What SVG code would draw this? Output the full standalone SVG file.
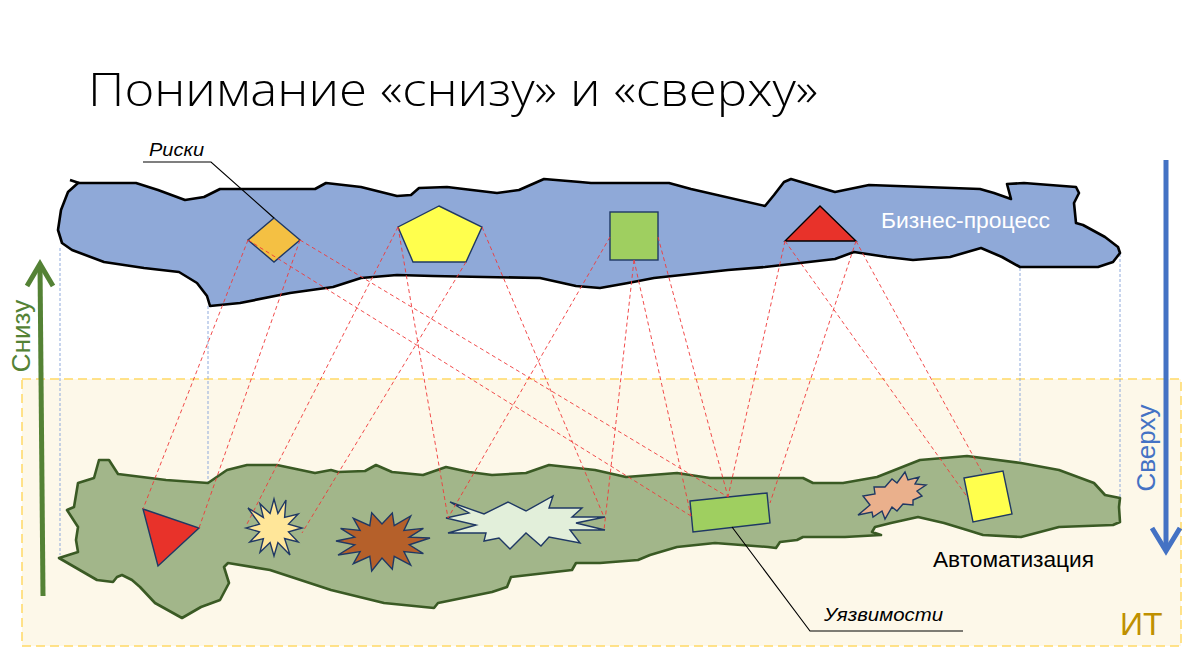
<svg xmlns="http://www.w3.org/2000/svg" width="1200" height="656" viewBox="0 0 1200 656">
<style>
.txt{font-family:"Liberation Sans",Arial,sans-serif}
.title{font-family:"Open Sans","Liberation Sans",sans-serif;font-weight:300}
.blob-top{fill:#8FA9D8;stroke:#000;stroke-width:2.6;stroke-linejoin:round}
.blob-it{fill:#A2B68A;stroke:#3A5A24;stroke-width:2.6;stroke-linejoin:round}
.sh{stroke:#1F3864;stroke-width:1.4;stroke-linejoin:miter}
.vl{stroke:#8FAADC;stroke-width:1;stroke-dasharray:3 2;fill:none}
.rl{stroke:#F03A3A;stroke-opacity:.9;stroke-width:1;stroke-dasharray:4 3;fill:none}
.lead{stroke:#000;stroke-width:1.1;fill:none}
</style>
<rect width="1200" height="656" fill="#FFFFFF"/>

<!-- IT zone -->
<g id="it-zone">
<rect x="22" y="379" width="1159" height="267" fill="#FDF8E9" stroke="#FFD966" stroke-width="1.5" stroke-dasharray="9 5"/>
<text class="txt" x="1120" y="635" font-size="32" fill="#BF9000">ИТ</text>
</g>

<!-- Title -->
<text class="title" x="88" y="106" font-size="46" fill="#000" textLength="730" lengthAdjust="spacingAndGlyphs">Понимание «снизу» и «сверху»</text>

<!-- Vertical guide lines -->
<g id="guides">
<line class="vl" x1="60" y1="248" x2="60" y2="555"/>
<line class="vl" x1="208" y1="306" x2="208" y2="603"/>
<line class="vl" x1="1020" y1="268" x2="1020" y2="537"/>
<line class="vl" x1="1120" y1="254" x2="1120" y2="498"/>
</g>

<!-- Business process blob -->
<g id="business-process">
<path class="blob-top" d="M78,183 L136,183 L158,190 L185,200 L204,197 L220,189 L315,189 L326,183 L361,187 L397,196 L411,195 L419,188 L447,187 L497,193 L519,190 L544,179 L580,182 L591,183 L669,183 L691,189 L765,206 L774,195 L784,182 L791,179 L835,192 L869,185 L980,189 L994,193 L1011,199 L1007,184 L1024,183 L1076,187 L1079,193 L1074,203 L1076,223 L1083,225 L1105,237 L1118,247 L1120,253 L1113,262 L1098,267 L1020,267 L1002,257 L981,248 L950,257 L913,260 L887,257 L854,252 L835,259 L765,267 L728,270 L654,278 L628,283 L600,288 L576,286 L540,278 L433,276 L397,275 L361,278 L333,287 L290,293 L240,303 L210,306 L207,296 L197,283 L179,272 L144,268 L104,262 L72,250 L62,243 L58,230 L61,210 L68,192 Z"/>
<path d="M70,180 L79,183" stroke="#000" stroke-width="2.6" fill="none"/>
<text class="txt" x="881" y="228" font-size="22.5" fill="#FFFFFF" textLength="169" lengthAdjust="spacingAndGlyphs">Бизнес-процесс</text>
</g>

<!-- Automation blob -->
<g id="automation">
<path class="blob-it" d="M59,558 L78,552 L76,540 L78,527 L67,510 L74,507 L78,483 L94,478 L99,460 L109,460 L118,474 L166,480 L208,483 L227,470 L247,465 L277,465 L315,473 L331,470 L338,472 L365,471 L376,465 L392,472 L423,475 L446,467 L469,472 L492,475 L526,473 L549,465 L595,470 L626,477 L677,473 L710,478 L803,478 L813,483 L843,483 L877,477 L920,460 L967,456 L1021,463 L1059,470 L1094,483 L1105,495 L1120,498 L1119,507 L1120,522 L1113,525 L1059,527 L1021,537 L983,535 L967,530 L944,523 L918,517 L891,523 L875,527 L872,532 L881,535 L845,537 L803,537 L797,540 L780,542 L776,548 L768,547 L715,543 L677,547 L650,555 L638,560 L600,563 L576,563 L572,570 L511,577 L507,587 L492,592 L438,603 L434,608 L384,603 L331,590 L270,570 L228,563 L224,567 L229,583 L220,600 L201,607 L182,618 L155,603 L140,587 L132,580 L122,575 L117,577 L113,582 L97,580 Z"/>
<text class="txt" x="933" y="567" font-size="22" fill="#000" textLength="161" lengthAdjust="spacingAndGlyphs">Автоматизация</text>
</g>

<!-- Risk nodes (top) -->
<g id="risk-diamond"><polygon class="sh" fill="#F4C043" points="274,218 300,240 274,262 248,240"/></g>
<g id="risk-pentagon"><polygon class="sh" fill="#FFFF4D" points="439,206 482,227 466,262 413,262 398,227"/></g>
<g id="risk-square"><rect class="sh" fill="#9FCF60" x="610" y="212" width="48" height="48"/></g>
<g id="risk-triangle"><polygon fill="#E8322A" stroke="#000" stroke-width="1.4" points="820,206 856,241 785,241"/></g>

<!-- Vulnerability nodes (bottom) -->
<g id="vuln-triangle"><polygon class="sh" fill="#E8322A" points="143,509 199,528 158,566"/></g>
<g id="vuln-star-yellow"><polygon class="sh" fill="#FFE699" points="302,528 288.5,531.9 298.2,542 284.6,538.6 290,555 277.9,542.5 274,556 270.1,542.5 260,552.2 263.4,538.6 249.8,542 259.5,531.9 246,528 259.5,524.1 248,508 263.4,517.4 260,503.8 270.1,513.5 274,499 277.9,513.5 286,500 284.6,517.4 298.2,514 288.5,524.1"/></g>
<g id="vuln-star-brown"><polygon class="sh" fill="#B5602A" points="430,538 409.3,544.8 423.4,553.6 403.9,551.6 410.7,565 394.2,556.3 392.3,569.3 382,558 371.7,571 369.8,556.3 353.3,563.7 360.1,551.6 338,555 354.7,544.8 336,541 354.7,537.2 340.6,528.4 360.1,530.4 353.3,518.3 369.8,525.7 371.7,512.7 382,524 392.3,513 394.2,525.7 410.7,516 403.9,530.4 423.4,528.4 409.3,537.2"/></g>
<g id="vuln-star-white"><polygon class="sh" fill="#E2EFDA" points="450,502 484,514 508,502 526,511 553,496 549,508 582,508 572,517 605,517 576,523 605,530 570,530 580,543 549,537 541,546 526,533 510,549 499,538 484,541 486,533 448,533 476,525 446,518 469,513"/></g>
<g id="vuln-rect"><polygon class="sh" fill="#9FCF60" points="690,501 767,493 770,523 693,532"/></g>
<g id="vuln-star-salmon"><polygon class="sh" fill="#EAB08C" points="858,515 870,505 863,496 875,494 874,487 885,487 892,479 897,483 905,472 908,480 919,477 915,484 926,485 917,491 922,496 913,500 913,505 903,504 897,511 892,507 885,519 882,511 873,517 872,512"/></g>
<g id="vuln-square"><polygon class="sh" fill="#FFFF4D" points="964,478 1003,471 1012,514 973,522"/></g>

<!-- Connectors -->
<g id="connectors">
<line class="rl" x1="248" y1="240" x2="143" y2="509"/>
<line class="rl" x1="300" y1="240" x2="199" y2="528"/>
<line class="rl" x1="300" y1="240" x2="728" y2="497"/>
<line class="rl" x1="248" y1="240" x2="691" y2="516"/>
<line class="rl" x1="398" y1="227" x2="247" y2="524"/>
<line class="rl" x1="398" y1="227" x2="448" y2="518"/>
<line class="rl" x1="466" y1="262" x2="302" y2="533"/>
<line class="rl" x1="482" y1="227" x2="604" y2="517"/>
<line class="rl" x1="610" y1="237" x2="448" y2="518"/>
<line class="rl" x1="634" y1="260" x2="604" y2="530"/>
<line class="rl" x1="634" y1="260" x2="691" y2="516"/>
<line class="rl" x1="658" y1="237" x2="728" y2="497"/>
<line class="rl" x1="785" y1="241" x2="728" y2="497"/>
<line class="rl" x1="785" y1="241" x2="968" y2="498"/>
<line class="rl" x1="856" y1="241" x2="770" y2="503"/>
<line class="rl" x1="856" y1="241" x2="983" y2="474"/>
</g>

<!-- Callouts -->
<g id="label-risks">
<polyline class="lead" points="143,162 211,162 274,218"/>
<text class="txt" x="149" y="156" font-size="18" font-style="italic" fill="#000" textLength="55" lengthAdjust="spacingAndGlyphs">Риски</text>
</g>
<g id="label-vuln">
<polyline class="lead" points="732,527 810,631 963,631"/>
<text class="txt" x="824" y="621" font-size="19" font-style="italic" fill="#000" textLength="119" lengthAdjust="spacingAndGlyphs">Уязвимости</text>
</g>

<!-- Bottom-up arrow -->
<g id="arrow-up">
<line x1="43" y1="596" x2="40" y2="265" stroke="#548235" stroke-width="5"/>
<polyline points="27,286 40,264 53,286" fill="none" stroke="#548235" stroke-width="5" stroke-linejoin="miter"/>
<text class="txt" transform="translate(30,336) rotate(-90)" text-anchor="middle" font-size="26" fill="#548235">Снизу</text>
</g>

<!-- Top-down arrow -->
<g id="arrow-down">
<line x1="1166" y1="160" x2="1166" y2="550" stroke="#4472C4" stroke-width="5"/>
<polyline points="1152,528 1166,551 1180,528" fill="none" stroke="#4472C4" stroke-width="5" stroke-linejoin="miter"/>
<text class="txt" transform="translate(1155,448) rotate(-90)" text-anchor="middle" font-size="26" fill="#4472C4">Сверху</text>
</g>
</svg>
